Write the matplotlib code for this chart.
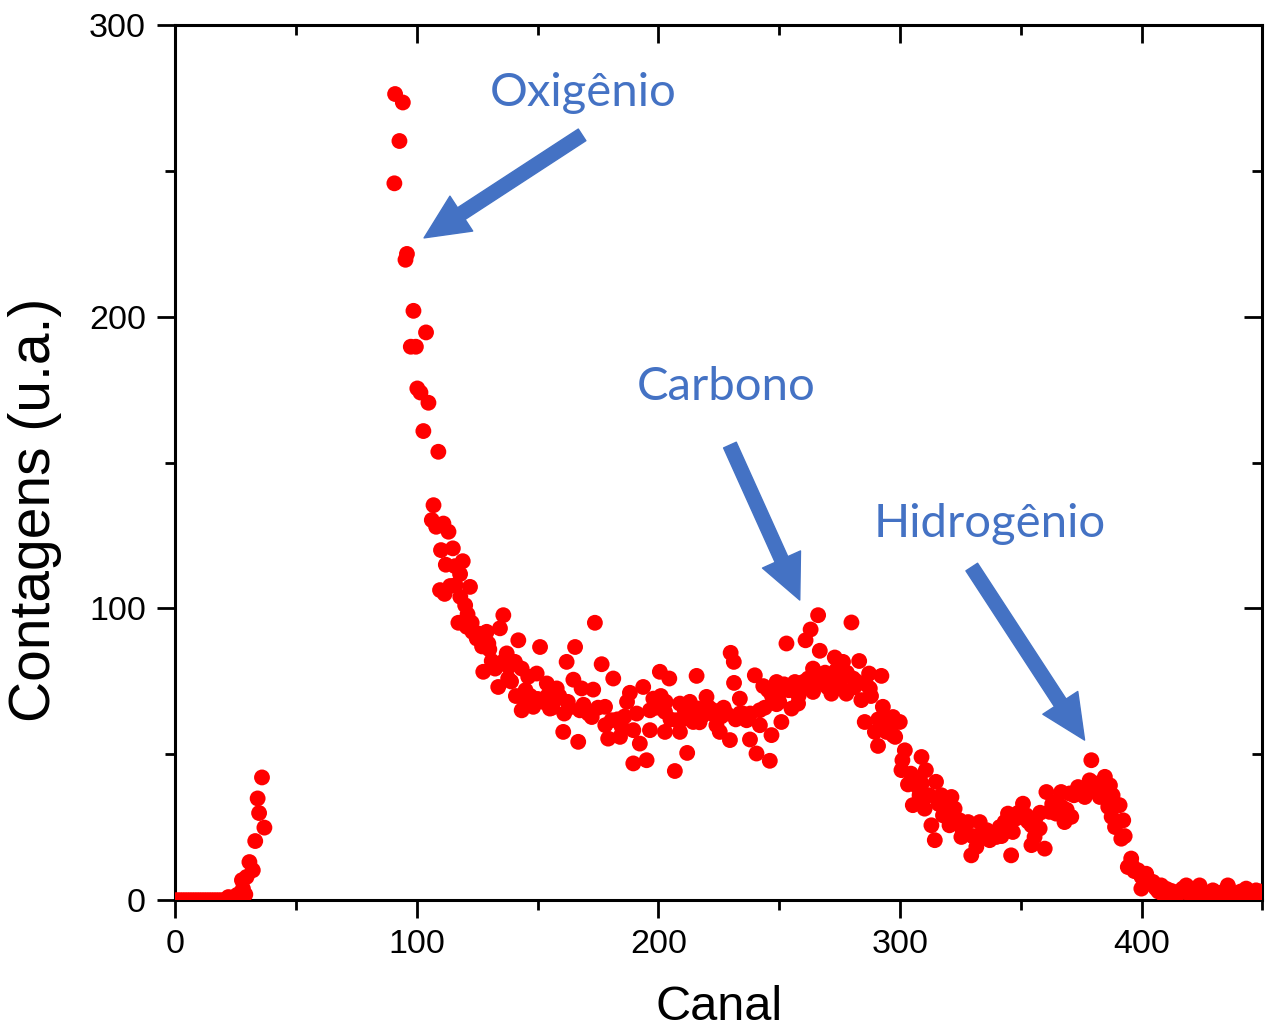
import matplotlib.pyplot as plt
from matplotlib.patches import FancyArrowPatch
from matplotlib.ticker import MultipleLocator

# spectrum points (channel, counts)
canal = [
    0, 1, 2, 3, 4, 5, 6, 7, 8, 9, 10, 11, 12, 13, 14, 15, 16, 17, 18, 19, 20, 21,
    22, 24, 25.5, 26, 27.6, 28, 29, 29.5, 30.7, 32.1, 33.1, 34.1, 34.7, 35.9, 36.9,
    90.7, 91.0, 92.8, 94.2, 95.3, 95.9, 97.5, 98.6, 99.6, 100.2, 101.5, 102.7,
    103.8, 104.8, 106.2, 106.9, 108.9, 109.6, 111.0, 111.5, 113.1, 113.8, 114.9,
    115.8, 117.2, 117.9, 119.0, 120.0, 120.7, 122.0, 122.7, 124.8, 125.5, 127.5,
    128.9, 129.6, 132.4, 133.7, 134.4, 135.8, 137.2, 137.8, 140.6, 142.0, 143.4,
    143.4, 144.8, 146.1, 148.2, 149.6, 151.0, 152.3, 153.8, 155.1, 157.2, 157.9,
    160.6, 162.0, 162.5, 164.8, 165.5, 166.8, 167.5, 168.2, 172.4, 173.0, 173.7,
    176.5, 177.9, 179.2, 180.6, 181.3, 184.1, 184.8, 188.2, 189.6, 189.6, 191.0,
    192.3, 193.7, 195.1, 196.5, 196.5, 197.9, 200.6, 202.7, 202.7, 204.5, 206.8,
    207.5, 208.9, 208.9, 210.9, 211.9, 214.4, 215.8, 216.5, 219.9, 222.0, 225.4,
    228.2, 229.6, 229.9, 231.2, 231.3, 233.7, 233.7, 236.5, 237.9, 239.9, 240.6,
    241.9, 243.4, 245.4, 246.1, 246.8, 248.9, 248.9, 250.9, 251.6, 253.0, 255.1,
    256.5, 257.8, 259.9, 260.9, 263.0, 264.0, 264.0, 266.1, 266.8, 268.9, 271.6,
    273.0, 273.7, 276.4, 277.8, 279.9, 280.6, 283.1, 284.0, 285.4, 287.2, 287.5,
    289.6, 290.9, 292.3, 292.9, 294.4, 297.1, 297.1, 299.9, 300.6, 302.0, 303.3,
    304.5, 305.3, 307.4, 308.1, 308.9, 310.2, 310.7, 313.0, 314.4, 314.9, 317.1,
    317.8, 318.5, 320.5, 321.3, 322.6, 324.7, 325.4, 328.2, 329.5, 331.6, 333.0,
    334.9, 337.1, 339.9, 341.3, 343.3, 344.7, 346.0, 346.7, 350.9, 352.3, 354.4,
    354.4, 355.7, 357.8, 359.9, 360.6, 361.9, 364.6, 366.7, 368.1, 370.2, 370.9,
    373.7, 376.5, 378.5, 379.2, 380.6, 382.7, 384.8, 386.2, 386.9, 387.6, 389.0,
    390.9, 391.6, 392.4, 394.3, 395.7, 398.5, 399.2, 399.9, 401.9, 402.0, 403,
    404.7, 405, 406, 407, 408.1, 409, 410, 411.6, 412, 413, 414, 415, 416, 417,
    418.5, 419, 420, 421, 422, 423, 424, 425, 426, 427, 428, 429.5, 430, 431, 432,
    433, 434, 435.7, 436, 437, 438, 439, 440, 441, 442, 443.3, 444, 445, 446,
    447.4, 448, 449, 450,
    # overlapping points inside the dense band
    108, 110, 112, 116, 118, 121, 123, 126, 127, 130, 131, 136, 138, 139,
    141, 145, 147, 150, 154, 156, 159, 161, 163, 169, 171, 175, 178, 183, 186, 187,
    199, 201, 203, 205, 210, 212, 213, 217, 218, 221, 223, 224, 226, 227, 232,
    235, 238, 242, 244, 247, 250, 252, 254,
    258, 261, 262, 265, 267, 269, 270, 272, 275, 278, 281, 282, 286, 288,
    291, 293, 295, 296, 298, 301, 306, 309, 312, 316, 319, 323, 326, 330, 332,
    336, 338, 342, 345, 348, 349, 353, 356, 358, 363, 365, 367, 369, 372, 375,
    377, 381, 383, 385, 388, 393, 396, 397, 400,
]
contagens = [
    0, 0, 0, 0, 0, 0, 0, 0, 0, 0, 0, 0, 0, 0, 0, 0, 0, 0, 0, 0, 0, 0,
    1.1, 1.0, 1.7, 2, 6.9, 4, 2, 8, 13.1, 10.3, 20.3, 34.9, 29.9, 42.1, 24.9,
    245.7, 276.3, 260.2, 273.4, 219.5, 221.5, 189.7, 202.0, 189.7, 175.4, 174.0, 160.8,
    194.6, 170.5, 130.3, 135.4, 153.7, 106.3, 129.1, 105.0, 126.3, 107.7, 120.6,
    114.5, 95.1, 111.8, 116.2, 101.1, 93.7, 107.4, 95.1, 89.7, 91.4, 78.3,
    92.0, 88.0, 79.4, 73.1, 93.2, 97.7, 84.6, 76.0, 81.7, 89.1, 79.4,
    65.1, 68.0, 76.6, 66.3, 77.7, 86.8, 68.0, 74.3, 65.7, 68.6, 72.6,
    57.7, 81.7, 68.0, 75.6, 86.8, 54.3, 65.1, 72.6, 62.8, 72.2, 95.1,
    80.9, 66.3, 55.4, 61.7, 76.0, 56.0, 59.4, 71.1, 58.3, 46.9, 64.0,
    53.7, 73.1, 48.0, 65.1, 58.3, 69.1, 78.3, 64.6, 57.7, 76.0, 44.3,
    61.7, 67.4, 57.7, 65.1, 50.5, 61.1, 76.9, 65.7, 69.7, 64.0, 57.7,
    64.0, 54.9, 84.8, 81.7, 74.5, 69.1, 64.0, 61.7, 55.1, 77.1, 50.3,
    65.1, 73.4, 72.0, 47.8, 56.6, 74.8, 67.2, 61.1, 72.0, 88.0, 65.7,
    74.8, 67.4, 74.8, 89.1, 92.8, 79.4, 71.4, 97.7, 85.5, 74.3, 70.8,
    83.2, 78.9, 81.7, 70.8, 95.2, 76.0, 82.0, 68.6, 61.1, 77.7, 72.6,
    57.7, 52.9, 76.9, 66.3, 57.7, 62.8, 56.6, 61.1, 44.6, 51.4, 39.7,
    43.4, 32.6, 38.8, 36.0, 49.1, 31.4, 44.6, 25.7, 20.6, 40.6, 36.0,
    29.1, 32.0, 25.7, 35.4, 31.4, 27.4, 21.7, 26.8, 15.4, 18.3, 26.8,
    23.4, 20.6, 21.7, 25.1, 26.8, 29.7, 15.4, 23.4, 33.1, 29.1, 25.7,
    18.9, 21.7, 24.6, 17.7, 37.1, 30.3, 29.7, 37.1, 26.8, 36.6, 28.6,
    38.8, 35.4, 41.1, 48.0, 37.7, 35.4, 42.3, 32.0, 39.4, 28.6, 25.1,
    32.6, 21.1, 27.4, 11.4, 14.3, 10.3, 9.1, 4.0, 9.1, 7.4, 6,
    6.3, 5, 4, 3, 5.1, 2, 4, 3.4, 2, 3, 1.5, 2, 3, 4,
    5.1, 3, 2, 1.5, 2, 4, 5.1, 3, 2, 1, 2, 3.4, 3, 2, 1.5,
    2, 3, 5.1, 4, 2, 1, 2, 1.5, 3, 2, 4.0, 3, 2, 1.5,
    3.4, 2, 3, 2,
    128, 120, 115, 108, 104, 98, 92, 90, 87, 86, 82, 82, 80, 75,
    70, 72, 70, 69, 70, 66, 70, 64, 66, 67, 64, 66, 60, 62, 63, 68,
    66, 70, 68, 62, 62, 64, 68, 61, 63, 66, 65, 60, 63, 66, 62,
    64, 64, 60, 66, 70, 68, 74, 72,
    70, 73, 76, 74, 76, 78, 73, 76, 74, 78, 73, 75, 74, 70,
    62, 60, 62, 58, 56, 48, 42, 40, 36, 33, 30, 28, 24, 22, 22,
    24, 23, 22, 26, 28, 30, 27, 28, 30, 33, 34, 32, 31, 36, 37,
    38, 40, 37, 38, 36, 22, 12, 10, 8,
]

rotulos = ["Oxigênio", "Carbono", "Hidrogênio"]
pos_rotulos = [(168.8, 276.7), (227.9, 175.9), (337.1, 128.9)]
setas_inicio = [(168.4, 262.3), (229.6, 156.0), (329.7, 114.2)]
setas_fim = [(103.0, 227.0), (258.5, 102.9), (376.4, 54.9)]

azul = "#4472C4"

plt.rcParams["font.family"] = ["Liberation Sans", "DejaVu Sans"]

fig = plt.figure(figsize=(12.7, 10.36), dpi=100)
ax = fig.add_axes([0.138, 0.131, 0.856, 0.845])

ax.scatter(canal, contagens, s=130, color="#ff0000", edgecolors="none", zorder=3)

for texto, (tx, ty) in zip(rotulos, pos_rotulos):
    ax.text(tx, ty, texto, color=azul, fontsize=34, family="Lato",
            ha="center", va="center")

for a, b in zip(setas_inicio, setas_fim):
    seta = FancyArrowPatch(a, b, arrowstyle="simple,head_length=1.6,head_width=1.5,tail_width=0.5",
                           mutation_scale=20, color=azul, shrinkA=0, shrinkB=0, zorder=4)
    ax.add_patch(seta)

ax.set_xlim(0, 450)
ax.set_ylim(0, 300)
ax.xaxis.set_major_locator(MultipleLocator(100))
ax.xaxis.set_minor_locator(MultipleLocator(50))
ax.yaxis.set_major_locator(MultipleLocator(100))
ax.yaxis.set_minor_locator(MultipleLocator(50))

for s in ax.spines.values():
    s.set_linewidth(2.2)

ax.tick_params(which="major", direction="out", length=13, width=2, labelsize=24.5, pad=8)
ax.tick_params(which="minor", direction="out", length=7, width=2)
ax.tick_params(which="both", top=True, right=True)
# mirrored ticks on top/right point inward
for t in ax.xaxis.get_major_ticks() + ax.xaxis.get_minor_ticks():
    t.tick2line.set_marker(3)
for t in ax.yaxis.get_major_ticks() + ax.yaxis.get_minor_ticks():
    t.tick2line.set_marker(0)

ax.set_xlabel("Canal", fontsize=35, labelpad=18)
ax.set_ylabel("Contagens (u.a.)", fontsize=41)
ax.yaxis.set_label_coords(-0.129, 0.446)
ax.yaxis.label.set(va="center", rotation_mode="default")

fig.savefig("out.png")
